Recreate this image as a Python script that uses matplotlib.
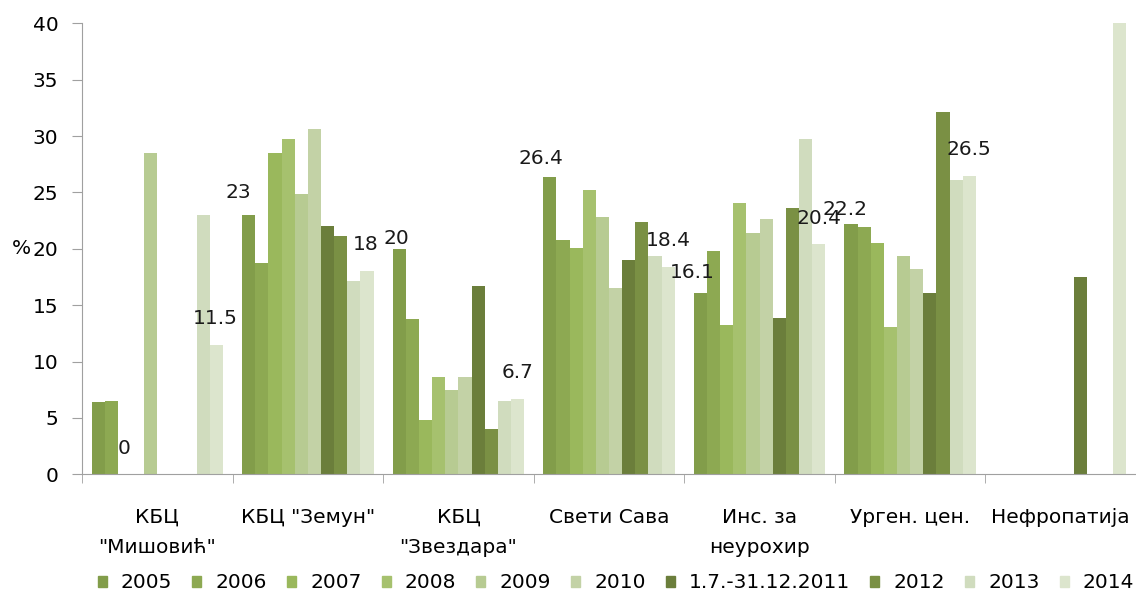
import numpy as np
import matplotlib
matplotlib.use("Agg")
import matplotlib.pyplot as plt
from matplotlib.patches import Patch

nan = np.nan

# категорије (болнице) и серије (године)
categories = ['КБЦ\n"Мишовић"', 'КБЦ "Земун"', 'КБЦ\n"Звездара"', 'Свети Сава',
              'Инс. за\nнеурохир', 'Урген. цен.', 'Нефропатија']
series = ['2005', '2006', '2007', '2008', '2009', '2010',
          '1.7.-31.12.2011', '2012', '2013', '2014']

v2005 = [6.4, 23.0, 20.0, 26.4, 16.1, 22.2, nan]
v2006 = [6.5, 18.7, 13.8, 20.8, 19.8, 21.9, nan]
v2007 = [0.0, 28.5, 4.8, 20.1, 13.2, 20.5, nan]
v2008 = [nan, 29.7, 8.6, 25.2, 24.1, 13.1, nan]
v2009 = [28.5, 24.9, 7.5, 22.8, 21.4, 19.4, nan]
v2010 = [nan, 30.6, 8.6, 16.5, 22.6, 18.2, nan]
v2011 = [nan, 22.0, 16.7, 19.0, 13.9, 16.1, 17.5]
v2012 = [nan, 21.1, 4.0, 22.4, 23.6, 32.1, nan]
v2013 = [23.0, 17.1, 6.5, 19.4, 29.7, 26.1, nan]
v2014 = [11.5, 18.0, 6.7, 18.4, 20.4, 26.5, 40.0]
values = [v2005, v2006, v2007, v2008, v2009, v2010, v2011, v2012, v2013, v2014]

# тачке са ознаком вредности: (категорија, серија)
labelled = [(0, 2), (0, 9), (1, 0), (1, 9), (2, 0), (2, 9),
            (3, 0), (3, 9), (4, 0), (4, 9), (5, 0), (5, 9)]
# помак ознака у пикселима (dx, dy)
label_offsets = [(0, 26), (-1, 26), (-10, 22), (-1, 27), (-3, 10), (0, 26),
                 (-9, 18), (0, 26), (-8, 20), (0, 26), (-6, 14), (0, 26)]

colors = ['#829d4a', '#8da952', '#9ab85c', '#a6c16e', '#b7cb92',
          '#c3d2a6', '#6b7e3b', '#7a9044', '#d0dcbe', '#dce5cd']

FS = 14.5
plt.rcParams['font.family'] = ['DejaVu Sans']

fig = plt.figure(figsize=(11.36, 5.94), dpi=100)
ax = fig.add_axes([82 / 1136, 1 - 474.3 / 594, 1054 / 1136, 451 / 594])

n = len(series)
bw = 0.0873
x = np.arange(len(categories)) + 0.5
for i, (vals, c) in enumerate(zip(values, colors)):
    ax.bar(x + (i - (n - 1) / 2) * bw, vals, width=bw, color=c, linewidth=0)

for (g, s), (dx, dy) in zip(labelled, label_offsets):
    v = values[s][g]
    ax.annotate(f'{v:g}', xy=(x[g] + (s - (n - 1) / 2) * bw, v),
                xytext=(dx, dy), textcoords='offset pixels',
                ha='center', va='center', fontsize=FS, color='#1a1a1a')

ax.set_xlim(0, len(categories))
ax.set_ylim(0, 40)
ax.set_yticks(np.arange(0, 41, 5))
ax.set_xticks(x)
ax.set_xticklabels(categories, fontsize=FS, linespacing=1.75)
ax.set_xticks(np.arange(0, len(categories) + 1), minor=True)
ax.tick_params(axis='x', which='major', length=0, pad=24)
ax.tick_params(axis='x', which='minor', length=6.5, color='#a0a0a0')
ax.tick_params(axis='y', length=7, pad=10, color='#a0a0a0', labelsize=FS)
for sp in ['top', 'right']:
    ax.spines[sp].set_visible(False)
for sp in ['left', 'bottom']:
    ax.spines[sp].set_color('#a0a0a0')

ax.annotate('%', xy=(0, 20), xycoords=('axes fraction', 'data'),
            xytext=(-61, 0), textcoords='offset pixels',
            ha='center', va='center', fontsize=FS)

handles = [Patch(color=c) for c in colors]
fig.legend(handles, series, loc='center', bbox_to_anchor=(616 / 1136, 1 - 583 / 594),
           ncol=n, frameon=False, fontsize=FS, handlelength=0.45, handleheight=0.45,
           handletextpad=0.7, columnspacing=1.0, borderaxespad=0)

fig.savefig('out.png', dpi=100)
